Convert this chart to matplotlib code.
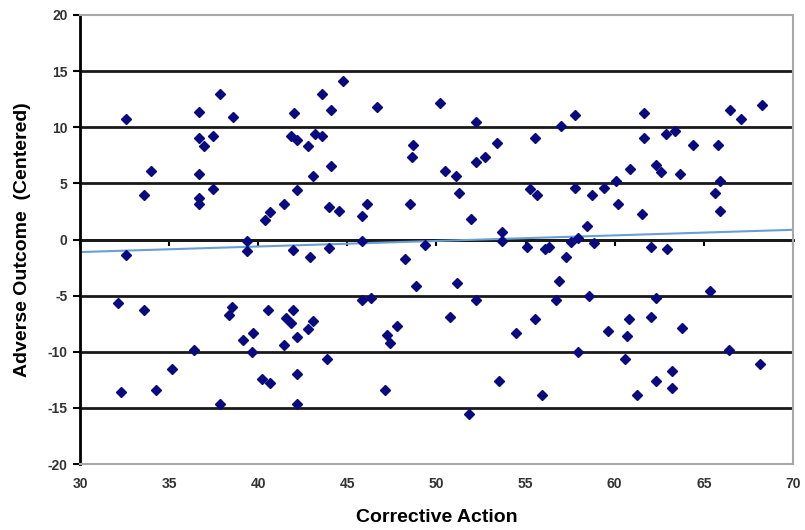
import numpy as np
import matplotlib
matplotlib.use("Agg")
import matplotlib.pyplot as plt

# Corrective Action vs Adverse Outcome (centered)
corrective_action = [
    32.56, 33.6, 34.0, 32.56, 36.67, 36.67, 36.95, 37.48, 37.85, 38.56,
    36.67, 36.67, 36.67, 37.48, 40.38, 40.66, 41.44, 39.35, 39.38, 42.0,
    41.83, 42.2, 42.15, 41.97, 42.8, 43.18, 43.6, 43.55, 44.08, 44.77,
    46.64, 43.05, 44.08, 43.96, 44.53, 45.83, 46.11, 48.5, 48.69, 48.64,
    50.19, 50.47, 51.12, 51.26, 51.91, 52.21, 52.75, 53.4, 52.21, 53.65,
    53.65, 55.52, 55.24, 55.65, 56.98, 42.9, 43.96, 45.83, 48.23, 49.38,
    55.09, 56.08, 56.32, 57.76, 57.8, 58.7, 59.39, 60.06, 60.85, 60.19,
    58.47, 57.95, 57.54, 58.83, 57.26, 61.54, 61.65, 61.65, 62.3, 62.57,
    62.9, 63.37, 63.65, 64.4, 65.77, 65.9, 65.61, 65.9, 66.45, 67.07,
    68.29, 62.06, 62.96,
    32.15, 33.59, 32.3, 34.26, 35.18, 36.39, 37.85, 38.54, 38.36, 39.16,
    39.72, 39.63, 40.19, 40.66, 40.52, 41.44, 41.55, 41.82, 41.97, 42.15,
    42.15, 42.2, 48.84, 51.16, 45.8, 46.32, 52.21, 42.8, 43.05, 43.84,
    47.2, 47.39, 47.8, 47.14, 50.75, 51.82, 53.5, 54.45, 55.52, 55.93,
    56.88, 56.7, 58.56, 59.63, 60.81, 60.69, 62.06, 62.3, 63.78, 65.37,
    57.95, 60.57, 63.24, 62.3, 63.24, 61.25, 66.42, 68.14,
]
adverse_outcome = [
    10.7, 3.93, 6.07, -1.34, 11.37, 9.08, 8.3, 9.2, 13.0, 10.87,
    5.8, 3.72, 3.13, 4.52, 1.76, 2.44, 3.13, -0.09, -0.98, 11.28,
    9.2, 8.84, 4.38, -0.92, 8.33, 9.43, 9.2, 13.0, 11.58, 14.1,
    11.76, 5.63, 6.52, 2.88, 2.5, 2.05, 3.13, 3.13, 8.39, 7.35,
    12.2, 6.07, 5.65, 4.13, 1.81, 6.9, 7.35, 8.6, 10.47, 0.65,
    -0.09, 9.05, 4.52, 3.99, 10.09, -1.58, -0.74, -0.15, -1.72, -0.48,
    -0.69, -0.89, -0.69, 11.13, 4.58, 3.99, 4.58, 5.18, 6.3, 3.13,
    1.19, 0.15, -0.18, -0.3, -1.58, 2.29, 11.31, 9.05, 6.6, 6.0,
    9.43, 9.67, 5.86, 8.39, 8.39, 5.18, 4.13, 2.5, 11.58, 10.7,
    11.96, -0.69, -0.89,
    -5.65, -6.25, -13.6, -13.4, -11.5, -9.82, -14.67, -6.04, -6.7, -8.96,
    -8.33, -10.06, -12.44, -12.8, -6.25, -9.4, -7.03, -7.44, -6.25, -8.72,
    -11.94, -14.67, -4.1, -3.87, -5.38, -5.2, -5.38, -7.98, -7.23, -10.65,
    -8.48, -9.26, -7.68, -13.42, -6.88, -15.56, -12.59, -8.36, -7.08, -13.84,
    -3.72, -5.38, -5.0, -8.13, -7.08, -8.57, -6.88, -5.2, -7.92, -4.55,
    -10.06, -10.65, -11.7, -12.59, -13.19, -13.84, -9.82, -11.1,
]

x_ticks = [30, 35, 40, 45, 50, 55, 60, 65, 70]
y_ticks = [-20, -15, -10, -5, 0, 5, 10, 15, 20]

plt.rcParams['font.family'] = ['Liberation Sans', 'DejaVu Sans']
plt.rcParams['axes.unicode_minus'] = False

fig = plt.figure(figsize=(8.05, 5.3), dpi=100)
ax = fig.add_axes([0.0994, 0.1245, 0.8856, 0.8472])

x = np.array(corrective_action)
y = np.array(adverse_outcome)

ax.set_xlim(30, 70)
ax.set_ylim(-20, 20)

# horizontal grid lines (Excel style)
for yv in y_ticks[1:-1]:
    ax.axhline(yv, color='#1a1a1a', lw=2.0, zorder=1)

# linear trend line
slope, intercept = np.polyfit(x, y, 1)
xs = np.array([30, 70])
ax.plot(xs, slope * xs + intercept, color='#6a9fd4', lw=1.5, zorder=2)

ax.plot(x, y, linestyle='none', marker='D', markersize=5,
        color='#0a0a80', markeredgecolor='#0a0a80', zorder=3)

ax.set_xticks(x_ticks)
ax.set_yticks(y_ticks)
ax.tick_params(axis='x', length=0, pad=9, labelsize=10, labelcolor='#333333')
ax.tick_params(axis='y', direction='out', length=5, width=1.5, color='black',
               labelsize=10, labelcolor='#333333', pad=4)
for lab in ax.get_xticklabels() + ax.get_yticklabels():
    lab.set_fontweight('bold')

for side in ['top', 'right', 'bottom']:
    ax.spines[side].set_color('#a8a8a8')
    ax.spines[side].set_linewidth(1.5)
ax.spines['left'].set_color('black')
ax.spines['left'].set_linewidth(2.0)

# x axis crossing at y = 0 with tick marks pointing down, no labels there
sec = ax.secondary_xaxis(0.5)
sec.set_xticks(x_ticks)
sec.set_xticklabels([])
sec.tick_params(direction='in', length=4, width=1.5, color='black')
for sp in sec.spines.values():
    sp.set_color('black')
    sp.set_linewidth(2.0)

ax.set_xlabel('Corrective Action', fontsize=14, fontweight='bold', labelpad=13)
ax.set_ylabel('Adverse Outcome  (Centered)', fontsize=14, fontweight='bold',
              labelpad=12)

fig.savefig('out.png', dpi=100)
